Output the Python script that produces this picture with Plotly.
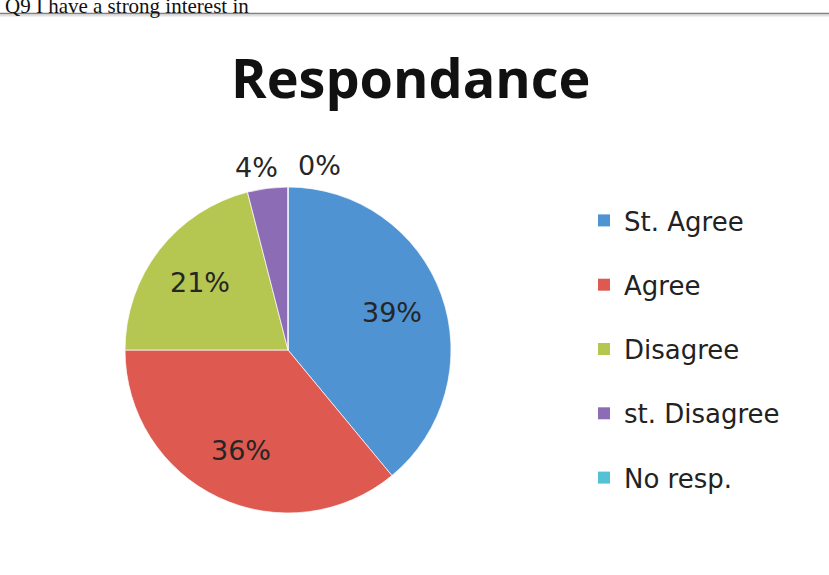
import math
import plotly.graph_objects as go

# Survey responses for Q9
categories = ["St. Agree", "Agree", "Disagree", "st. Disagree", "No resp."]
shares = [39, 36, 21, 4, 0]
colors = ["#4F93D3", "#DE5A50", "#B5C750", "#8C6DB5", "#55C1D6"]

W, H = 829, 575
CX, CY, R = 288, 350, 163  # pie centre and radius in pixels


def px(x):
    return x / W


def py(y):
    return 1 - y / H


fig = go.Figure()

fig.add_trace(go.Pie(
    labels=categories,
    values=shares,
    sort=False,
    direction="clockwise",
    rotation=0,
    marker=dict(colors=colors, line=dict(color="rgba(255,255,255,0.7)", width=1)),
    textinfo="none",
    hoverinfo="label+percent",
    showlegend=False,
    domain=dict(x=[px(CX - R), px(CX + R)], y=[py(CY + R), py(CY - R)]),
))

# Legend entries, one per category, spaced as separate groups
for name, col in zip(categories, colors):
    fig.add_trace(go.Scatter(
        x=[None], y=[None], mode="markers", name=name, legendgroup=name,
        marker=dict(symbol="square", size=12, color=col),
    ))

# Percentage labels placed from each slice's mid-angle
total = sum(shares)
annotations = []
cum = 0
for v in shares:
    mid = (cum + v / 2) / total * 360
    cum += v
    pct = f"{round(v / total * 100)}%"
    a = math.radians(mid)
    if v / total >= 0.1:
        r = 0.68 * R
        x = CX + r * math.sin(a)
        y = CY - r * math.cos(a)
        annotations.append(dict(x=px(x), y=py(y), text=pct, xanchor="center", yanchor="middle"))
    else:
        r = 1.13 * R
        y = CY - r * math.cos(a)
        left = math.sin(a) >= 0 or mid >= 359.5
        x = CX + 8 if left else CX - 8
        annotations.append(dict(x=px(x), y=py(y), text=pct,
                                xanchor="left" if left else "right", yanchor="middle"))

for ann in annotations:
    ann.update(xref="paper", yref="paper", showarrow=False,
               font=dict(family="DejaVu Sans", size=27, color="#262626"))

# Chart title
annotations.append(dict(
    x=px(410), y=py(77), xref="paper", yref="paper", showarrow=False,
    text="<b>Respondance</b>", xanchor="center", yanchor="middle",
    font=dict(family="Open Sans", size=54, color="#111111"),
))

# Page heading running off the top edge
annotations.append(dict(
    x=px(3), y=py(20), xref="paper", yref="paper", showarrow=False,
    text="Q9 I have a strong interest in", xanchor="left", yanchor="bottom",
    font=dict(family="Liberation Serif", size=21, color="#111111"),
))

fig.update_layout(
    width=W, height=H,
    margin=dict(l=0, r=0, t=0, b=0),
    paper_bgcolor="white",
    plot_bgcolor="white",
    xaxis=dict(visible=False),
    yaxis=dict(visible=False),
    annotations=annotations,
    showlegend=True,
    legend=dict(
        x=px(584), y=py(197), xanchor="left", yanchor="top",
        font=dict(family="DejaVu Sans", size=26, color="#222222"),
        tracegroupgap=27.5,
        bgcolor="rgba(0,0,0,0)",
    ),
    shapes=[
        dict(type="line", xref="paper", yref="paper", x0=0, x1=1,
             y0=py(15.5), y1=py(15.5), line=dict(color="rgba(0,0,0,0.12)", width=2)),
        dict(type="line", xref="paper", yref="paper", x0=0, x1=1,
             y0=py(13.5), y1=py(13.5), line=dict(color="#808080", width=1.5)),
    ],
)

fig.write_html("out.html")
